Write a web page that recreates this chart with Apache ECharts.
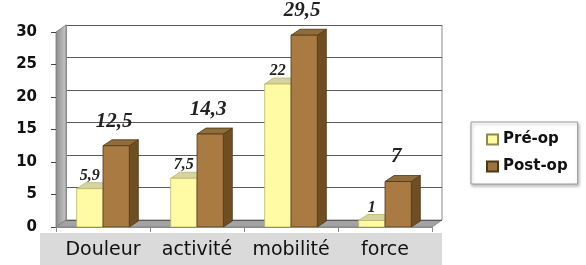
<!DOCTYPE html>
<html>
<head>
<meta charset="utf-8">
<script src="https://cdn.jsdelivr.net/npm/echarts@6/dist/echarts.min.js"></script>
<style>
  html, body { margin: 0; padding: 0; background: #fff; }
  #main { width: 586px; height: 265px; }
</style>
</head>
<body>
<div id="main"></div>
<script>
// donnees
var categories = ['Douleur', 'activité', 'mobilité', 'force'];
var preOp = [5.9, 7.5, 22, 1];
var postOp = [12.5, 14.3, 29.5, 7];
var yTicks = [0, 5, 10, 15, 20, 25, 30];

// cadre avant du graphe (pixels) + profondeur 3D
var GL = 56, GT = 32, GR = 432, GB = 227;
var DX = 10, DY = 7;   // decalage du mur du fond
var BDX = 9, BDY = 6;  // profondeur des barres

function fmt(v) {
    return String(v).replace('.', ',');
}

function toData(arr) {
    var d = [];
    for (var i = 0; i < arr.length; i++) {
        d.push([i, arr[i]]);
    }
    return d;
}

// barre 3D : face avant, cote, dessus + etiquette
function bar3d(side, c, lab) {
    return function (params, api) {
        var idx = api.value(0), val = api.value(1);
        var base = api.coord([idx, 0]);
        var top = api.coord([idx, val]);
        var w = api.size([1, 0])[0] * 0.28;
        var x0 = side < 0 ? base[0] - w : base[0];
        var x1 = x0 + w;
        var yT = top[1], yB = base[1];
        return {
            type: 'group',
            children: [
                {
                    type: 'polygon',
                    shape: { points: [[x1, yT], [x1 + BDX, yT - BDY], [x1 + BDX, yB - BDY], [x1, yB]] },
                    style: { fill: c.side, stroke: c.line, lineWidth: 0.8 }
                },
                {
                    type: 'polygon',
                    shape: { points: [[x0, yT], [x0 + BDX, yT - BDY], [x1 + BDX, yT - BDY], [x1, yT]] },
                    style: { fill: c.top, stroke: c.line, lineWidth: 0.8 }
                },
                {
                    type: 'rect',
                    shape: { x: x0, y: yT, width: w, height: yB - yT },
                    style: { fill: c.front, stroke: c.line, lineWidth: 0.8 }
                },
                {
                    type: 'text',
                    z2: 10,
                    style: {
                        text: fmt(val),
                        x: (x0 + x1) / 2 + lab.dx,
                        y: yT - lab.dist,
                        align: 'center',
                        verticalAlign: 'bottom',
                        font: 'italic bold ' + lab.size + 'px "Liberation Serif", serif',
                        fill: '#222'
                    }
                }
            ]
        };
    };
}

var preColors = { front: '#fffaa3', side: '#d9d27a', top: '#d6d3a0', line: '#bdb56a' };
var postColors = { front: '#a97a42', side: '#6f4e24', top: '#8f6c3c', line: '#4f3614' };

var chart = echarts.init(document.getElementById('main'));

var option = {
    backgroundColor: '#ffffff',
    animation: false,
    legend: {
        orient: 'vertical',
        left: 471,
        top: 122,
        width: 112,
        padding: [10, 10, 10, 15],
        itemGap: 12,
        itemWidth: 11,
        itemHeight: 10,
        borderColor: '#9a9a9a',
        borderWidth: 1,
        backgroundColor: '#fff',
        shadowColor: 'rgba(0,0,0,0.25)',
        shadowBlur: 3,
        shadowOffsetX: 1,
        shadowOffsetY: 2,
        icon: 'rect',
        textStyle: {
            fontFamily: '"DejaVu Sans", sans-serif',
            fontWeight: 'bold',
            fontSize: 15,
            color: '#111'
        },
        data: ['Pré-op', 'Post-op']
    },
    grid: [
        { left: GL, top: GT, width: GR - GL, height: GB - GT },
        { left: GL + DX, top: GT - DY, width: GR - GL, height: GB - GT }
    ],
    xAxis: [
        {
            type: 'category',
            gridIndex: 0,
            data: categories,
            axisLine: { show: true, lineStyle: { color: '#8a8a8a', width: 1 } },
            axisTick: { show: true, length: 5, lineStyle: { color: '#8a8a8a' } },
            axisLabel: {
                interval: 0,
                hideOverlap: false,
                margin: 14,
                fontFamily: '"DejaVu Sans", sans-serif',
                fontSize: 19,
                color: '#111'
            },
            splitLine: { show: false },
            z: 5
        },
        {
            type: 'category',
            gridIndex: 1,
            data: categories,
            show: false
        }
    ],
    yAxis: [
        {
            type: 'value',
            gridIndex: 0,
            min: 0,
            max: 30,
            interval: 5,
            axisLine: { show: false },
            axisTick: { show: true, length: 5, lineStyle: { color: '#444' } },
            axisLabel: {
                margin: 19,
                fontFamily: '"DejaVu Sans", sans-serif',
                fontWeight: 'bold',
                fontSize: 15,
                color: '#111',
                formatter: function (v) {
                    return yTicks.indexOf(v) >= 0 ? String(v) : '';
                }
            },
            splitLine: { show: false }
        },
        {
            type: 'value',
            gridIndex: 1,
            min: 0,
            max: 30,
            interval: 5,
            axisLine: { show: true, lineStyle: { color: '#8a8a8a' } },
            axisTick: { show: false },
            axisLabel: { show: false },
            splitLine: { show: true, lineStyle: { color: '#5a5a5a', width: 1 } }
        }
    ],
    graphic: [
        // bande grise sous les categories
        {
            type: 'rect', z: -20,
            shape: { x: 40, y: 233, width: 402, height: 32 },
            style: { fill: '#dadada' }
        },
        // mur du fond : bord droit
        {
            type: 'line', z: -5,
            shape: { x1: GR + DX, y1: GT - DY, x2: GR + DX, y2: GB - DY },
            style: { stroke: '#8a8a8a', lineWidth: 1 }
        },
        // mur gauche
        {
            type: 'polygon', z: -4,
            shape: { points: [[GL, GT], [GL + DX, GT - DY], [GL + DX, GB - DY], [GL, GB]] },
            style: {
                fill: new echarts.graphic.LinearGradient(0, 0, 1, 0, [
                    { offset: 0, color: '#8c8c8c' },
                    { offset: 1, color: '#c9c9c9' }
                ]),
                stroke: '#777', lineWidth: 0.8
            }
        },
        // sol
        {
            type: 'polygon', z: -4,
            shape: { points: [[GL, GB], [GL + DX, GB - DY], [GR + DX, GB - DY], [GR, GB]] },
            style: { fill: '#a3a3a3', stroke: '#7a7a7a', lineWidth: 0.8 }
        }
    ],
    series: [
        {
            name: 'Pré-op',
            type: 'custom',
            xAxisIndex: 0,
            yAxisIndex: 0,
            itemStyle: { color: '#fffaa3', borderColor: '#8c8a50', borderWidth: 1 },
            renderItem: bar3d(-1, preColors, { dx: 0, dist: 5, size: 16 }),
            encode: { x: 0, y: 1 },
            data: toData(preOp),
            z: 3
        },
        {
            name: 'Post-op',
            type: 'custom',
            xAxisIndex: 0,
            yAxisIndex: 0,
            itemStyle: { color: '#9a7444', borderColor: '#4f3614', borderWidth: 1 },
            renderItem: bar3d(1, postColors, { dx: -2, dist: 14, size: 21 }),
            encode: { x: 0, y: 1 },
            data: toData(postOp),
            z: 4
        }
    ]
};

chart.setOption(option);
</script>
</body>
</html>
